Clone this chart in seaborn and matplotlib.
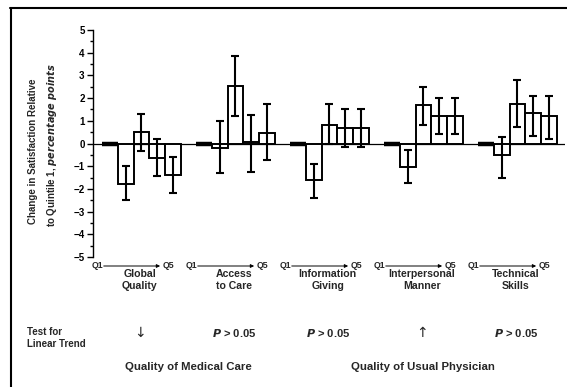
import numpy as np
import pandas as pd
import matplotlib
matplotlib.use("Agg")
import matplotlib.pyplot as plt
from matplotlib.lines import Line2D
from matplotlib.ticker import MultipleLocator
import seaborn as sns

# Satisfaction change by quintile, relative to quintile 1 (percentage points)
domains = ["Global\nQuality", "Access\nto Care", "Information\nGiving",
           "Interpersonal\nManner", "Technical\nSkills"]
quintiles = ["Q1", "Q2", "Q3", "Q4", "Q5"]

global_quality = [0.0, -1.80, 0.52, -0.62, -1.40]
access_to_care = [0.0, -0.19, 2.54, 0.07, 0.48]
information_giving = [0.0, -1.62, 0.81, 0.70, 0.70]
interpersonal_manner = [0.0, -1.04, 1.69, 1.22, 1.22]
technical_skills = [0.0, -0.50, 1.76, 1.34, 1.20]

# 95% confidence limits (Q1 is the reference category)
global_quality_lo = [np.nan, -2.47, -0.34, -1.44, -2.18]
global_quality_hi = [np.nan, -0.99, 1.32, 0.20, -0.59]
access_to_care_lo = [np.nan, -1.30, 1.22, -1.27, -0.74]
access_to_care_hi = [np.nan, 1.00, 3.85, 1.25, 1.73]
information_giving_lo = [np.nan, -2.41, 0.00, -0.16, -0.15]
information_giving_hi = [np.nan, -0.89, 1.72, 1.50, 1.50]
interpersonal_manner_lo = [np.nan, -1.76, 0.81, 0.44, 0.44]
interpersonal_manner_hi = [np.nan, -0.30, 2.48, 2.00, 2.00]
technical_skills_lo = [np.nan, -1.54, 0.74, 0.32, 0.22]
technical_skills_hi = [np.nan, 0.28, 2.78, 2.08, 2.08]

trend_tests = ["\u2193", "$\\mathit{P}$ > 0.05", "$\\mathit{P}$ > 0.05",
               "\u2191", "$\\mathit{P}$ > 0.05"]
sections = ["Quality of Medical Care", "Quality of Usual Physician"]
section_members = [[0, 1], [2, 3, 4]]

values = [global_quality, access_to_care, information_giving,
          interpersonal_manner, technical_skills]
lows = [global_quality_lo, access_to_care_lo, information_giving_lo,
        interpersonal_manner_lo, technical_skills_lo]
highs = [global_quality_hi, access_to_care_hi, information_giving_hi,
         interpersonal_manner_hi, technical_skills_hi]

GROUP_STEP = 6
rows = []
for g, dom in enumerate(domains):
    for q, qn in enumerate(quintiles):
        rows.append(dict(domain=dom, quintile=qn, pos=g * GROUP_STEP + q,
                         value=values[g][q], lo=lows[g][q], hi=highs[g][q]))
df = pd.DataFrame(rows)

sns.set_theme(style="white")
FONT = ["Liberation Sans Narrow", "Liberation Sans", "DejaVu Sans"]
plt.rcParams["font.family"] = FONT
plt.rcParams["font.weight"] = "bold"
plt.rcParams["mathtext.fontset"] = "custom"
plt.rcParams["mathtext.it"] = "Liberation Sans Narrow:italic:bold"
plt.rcParams["mathtext.rm"] = "Liberation Sans Narrow:bold"

W, H = 567, 387
fig = plt.figure(figsize=(W / 100, H / 100), dpi=100)
ax = fig.add_axes([93 / W, 1 - 257 / H, (565 - 93) / W, (257 - 30) / H])

bars = df[df["quintile"] != "Q1"]
ref = df[df["quintile"] == "Q1"]

sns.barplot(data=bars, x="pos", y="value", native_scale=True, width=1.0,
            color="white", edgecolor="black", linewidth=1.4,
            errorbar=None, ax=ax, zorder=2)
for p in ax.patches:
    p.set_facecolor("white")

# reference quintile drawn as a heavy stroke at its value
ax.hlines(ref["value"], ref["pos"] - 0.5, ref["pos"] + 0.5,
          colors="black", linewidth=3.2, zorder=3)

ax.errorbar(bars["pos"], bars["value"],
            yerr=[bars["value"] - bars["lo"], bars["hi"] - bars["value"]],
            fmt="none", ecolor="black", elinewidth=1.5, capsize=3.2,
            capthick=1.5, zorder=4)

ax.axhline(0, color="black", linewidth=0.9, zorder=1)

ax.set_xlim(-1.085, 29.04)
ax.set_ylim(-5, 5)
ax.set_xticks([])
ax.set_xlabel("")
ax.set_ylabel("")
ax.yaxis.set_major_locator(MultipleLocator(1))
ax.yaxis.set_minor_locator(MultipleLocator(0.5))
ax.tick_params(axis="y", which="major", left=True, length=4, width=1,
               pad=2, labelsize=7, color="black", labelcolor="black")
ax.tick_params(axis="y", which="minor", left=True, length=2.5, width=1,
               color="black")
ax.set_yticks(range(-5, 6))
ax.set_yticklabels([f"{v}".replace("-", "\u2212") for v in range(-5, 6)],
                   fontweight="bold")
for s in ["top", "right", "bottom"]:
    ax.spines[s].set_visible(False)
ax.spines["left"].set_color("black")
ax.spines["left"].set_linewidth(1.0)
ax.set_facecolor("white")

def y_of(px):
    # convert a figure pixel row to the axes' data y
    return 5 - (px - 30) * 10 / (257 - 30)

# Q1 -> Q5 direction under each group
for g in range(len(domains)):
    x0 = g * GROUP_STEP
    y = y_of(266)
    ax.text(x0 - 0.45, y, quintiles[0], ha="right", va="center",
            fontsize=6.3, clip_on=False)
    ax.text(x0 + 3.35, y, quintiles[-1], ha="left", va="center",
            fontsize=6.3, clip_on=False)
    ax.annotate("", xy=(x0 + 3.2, y), xytext=(x0 - 0.4, y),
                arrowprops=dict(arrowstyle="-|>", color="black", lw=0.7,
                                mutation_scale=5, shrinkA=0, shrinkB=0),
                annotation_clip=False)
    ax.text(x0 + 1.9, y_of(280), domains[g], ha="center", va="center",
            fontsize=7.6, linespacing=1.2, clip_on=False)
    is_arrow = trend_tests[g] in ("\u2193", "\u2191")
    ax.text(x0 + 1.9, y_of(333), trend_tests[g], ha="center", va="center",
            fontsize=10 if is_arrow else 8,
            family=["DejaVu Sans"] if is_arrow else FONT,
            fontweight="normal" if is_arrow else "bold", clip_on=False)

for name, members in zip(sections, section_members):
    xc = np.mean([m * GROUP_STEP + 2 for m in members])
    ax.text(xc, y_of(367), name, ha="center", va="center", fontsize=8.2,
            clip_on=False)

fig.text(27 / W, 1 - 338 / H, "Test for\nLinear Trend", ha="left",
         va="center", fontsize=7, linespacing=1.3)

fig.text(33 / W, 1 - 151 / H, "Change in Satisfaction Relative",
         rotation=90, ha="center", va="center", fontsize=7,
         fontweight="bold")
fig.text(52 / W, 1 - 145 / H,
         "to Quintile 1, $\\mathit{percentage\\ points}$",
         rotation=90, ha="center", va="center", fontsize=7)

# page frame
fig.add_artist(Line2D([10 / W, 1], [1 - 8 / H, 1 - 8 / H], color="black",
                      linewidth=1.5, transform=fig.transFigure))
fig.add_artist(Line2D([11 / W, 11 / W], [0, 1 - 8 / H], color="black",
                      linewidth=1.5, transform=fig.transFigure))

fig.savefig("out.png", dpi=100, facecolor="white")
